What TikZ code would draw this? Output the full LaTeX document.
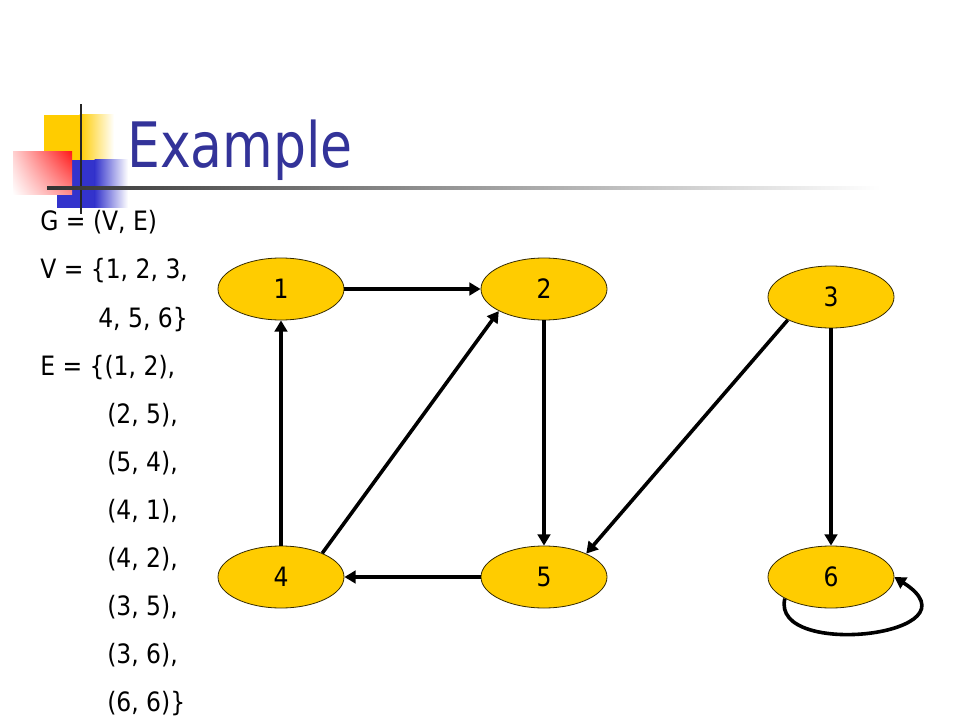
\documentclass[tikz,border=0pt]{standalone}
\usepackage{fontspec}
\setmainfont[FakeStretch=0.88]{DejaVu Sans}
\newfontfamily\titlefont[FakeStretch=0.83]{DejaVu Sans}
\usetikzlibrary{shapes.geometric,arrows.meta,shadings}
\definecolor{nodeyellow}{HTML}{FFCC00}
\definecolor{titleblue}{HTML}{333399}
\definecolor{logoblue}{HTML}{3333CC}
\definecolor{logored}{HTML}{FF1A1A}
\tikzset{
  vertex/.style={ellipse, draw=black!80!nodeyellow, line width=0.6pt, fill=nodeyellow,
    minimum width=94.5pt, minimum height=46.5pt, inner sep=0pt, font=\fontsize{20}{24}\selectfont},
  edge/.style={line width=2.7pt, -{Triangle[length=8.5pt,width=9.5pt]}},
  body/.style={anchor=base west, inner sep=0pt, font=\fontsize{20}{24}\selectfont}
}
\begin{document}
\begin{tikzpicture}[x=0.75pt,y=-0.75pt]
\useasboundingbox (0,0) rectangle (960,720);
\fill[white] (0,0) rectangle (960,720);
% logo
\fill[nodeyellow] (44,115) rectangle (80,160);
\shade[left color=nodeyellow, right color=white] (79.5,115) rectangle (114,160);
\fill[logoblue] (57,160) rectangle (95,208);
\shade[left color=logoblue, right color=white] (94.5,160) rectangle (128,208);
\shade[upper right=logored, lower right=logored!50, upper left=logored!20, lower left=white] (13,152) rectangle (72,195);
\fill[black!85] (79.8,104) rectangle (82.2,214);
\shade[left color=black!80, right color=white] (47,186.5) rectangle (880,189.5);
% title
\node[anchor=base west, inner sep=0pt, text=titleblue, font=\titlefont\fontsize{47}{56}\selectfont] (title) at (127,168) {Example};
% text
\node[body] (t1) at (40,231) {G = (V, E)};
\node[body] (t2) at (40,279) {V = \{1, 2, 3,};
\node[body] (t3) at (98,327) {4, 5, 6\}};
\node[body] (t4) at (40,375) {E = \{(1, 2),};
\node[body] (t5) at (107,423) {(2, 5),};
\node[body] (t6) at (107,471) {(5, 4),};
\node[body] (t7) at (107,519) {(4, 1),};
\node[body] (t8) at (107,567) {(4, 2),};
\node[body] (t9) at (107,615) {(3, 5),};
\node[body] (t10) at (107,663) {(3, 6),};
\node[body] (t11) at (107,711) {(6, 6)\}};
% vertices
\node[vertex] (1) at (281,289) {1};
\node[vertex] (2) at (544,289) {2};
\node[vertex] (3) at (831,297) {3};
\node[vertex] (4) at (281,577) {4};
\node[vertex] (5) at (544,577) {5};
\node[vertex] (6) at (831,577) {6};
% edges
\draw[edge] (1.east) -- (2.west);
\draw[edge] (2.south) -- (5.north);
\draw[edge] (5.west) -- (4.east);
\draw[edge] (4.north) -- (1.south);
\draw[edge] (4.30) -- (2.206);
\draw[edge] (3.208) -- (5.29);
\draw[edge] (3.south) -- (6.north);
\draw[edge] (6.205) .. controls (770,660) and (985,635) .. (6.east);
\end{tikzpicture}
\end{document}
